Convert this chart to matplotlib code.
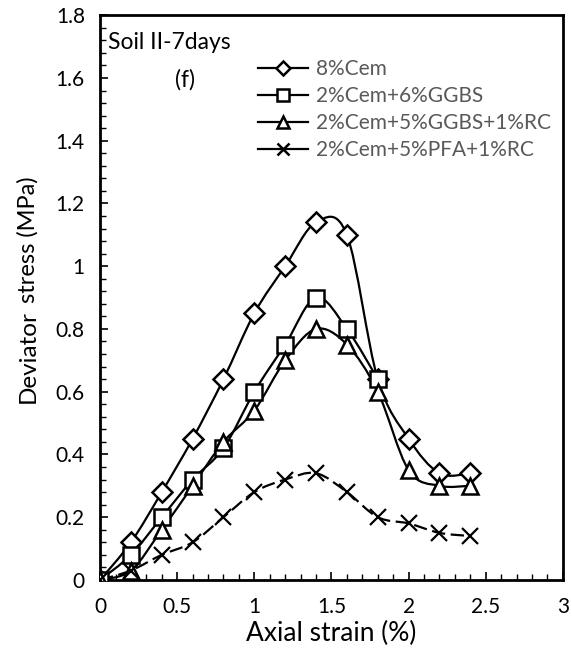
import matplotlib.pyplot as plt
import numpy as np
from matplotlib.path import Path
from matplotlib.patches import PathPatch
from matplotlib.lines import Line2D
from matplotlib.ticker import MultipleLocator

plt.rcParams['font.family'] = ['Lato', 'DejaVu Sans']

# Axial strain (%)
strain = [0, 0.2, 0.4, 0.6, 0.8, 1.0, 1.2, 1.4, 1.6, 1.8, 2.0, 2.2, 2.4]

# Deviator stress (MPa)
cem8 = [0, 0.12, 0.28, 0.45, 0.64, 0.85, 1.0, 1.14, 1.10, 0.64, 0.45, 0.34, 0.34]
ggbs6 = [0, 0.08, 0.20, 0.32, 0.42, 0.60, 0.75, 0.90, 0.80, 0.64]
ggbs5_rc = [0, 0.03, 0.16, 0.30, 0.44, 0.54, 0.70, 0.80, 0.75, 0.60, 0.35, 0.30, 0.30]
pfa5_rc = [0, 0.03, 0.08, 0.12, 0.20, 0.28, 0.32, 0.34, 0.28, 0.20, 0.18, 0.15, 0.14]

labels = ['8%Cem', '2%Cem+6%GGBS', '2%Cem+5%GGBS+1%RC', '2%Cem+5%PFA+1%RC']
xticks = [0, 0.5, 1, 1.5, 2, 2.5, 3]
xticklabels = ['0', '0.5', '1', '1.5', '2', '2.5', '3']
yticks = [0, 0.2, 0.4, 0.6, 0.8, 1.0, 1.2, 1.4, 1.6, 1.8]
yticklabels = ['0', '0.2', '0.4', '0.6', '0.8', '1', '1.2', '1.4', '1.6', '1.8']

markers = ['D', 's', '^', 'x']
msizes = [10.5, 12, 12, 11]
leg_msizes = [7, 8, 9, 8]
styles = ['-', '-', '-', (0, (6, 2.5))]


def smooth_path(x, y):
    # excel-style smoothed line drawn as cubic bezier segments
    pts = np.column_stack([x, y]).astype(float)
    n = len(pts)
    verts = [pts[0]]
    codes = [Path.MOVETO]
    for i in range(n - 1):
        p0 = pts[max(i - 1, 0)]
        p1 = pts[i]
        p2 = pts[i + 1]
        p3 = pts[min(i + 2, n - 1)]
        c1 = p1 + (p2 - p0) / 6.0
        c2 = p2 - (p3 - p1) / 6.0
        verts += [c1, c2, p2]
        codes += [Path.CURVE4] * 3
    return Path(verts, codes)


fig = plt.figure(figsize=(5.72, 6.62), dpi=100)
ax = fig.add_axes([0.175, 0.124, 0.809, 0.853])

series = [cem8, ggbs6, ggbs5_rc, pfa5_rc]
handles = []
for ys, lab, mk, ms, lms, ls in zip(series, labels, markers, msizes, leg_msizes, styles):
    xs = strain[:len(ys)]
    patch = PathPatch(smooth_path(xs, ys), facecolor='none', edgecolor='black',
                      linewidth=1.6, linestyle=ls, zorder=2)
    ax.add_patch(patch)
    ax.plot(xs, ys, linestyle='none', marker=mk, markersize=ms,
            markerfacecolor='white', markeredgecolor='black',
            markeredgewidth=1.8 if mk != 'x' else 1.6, zorder=3)
    handles.append(Line2D([], [], color='black', linewidth=1.6, marker=mk,
                          markersize=lms, markerfacecolor='white',
                          markeredgecolor='black', markeredgewidth=1.8))

ax.set_xlim(0, 3)
ax.set_ylim(0, 1.8)
ax.set_xticks(xticks)
ax.set_xticklabels(xticklabels)
ax.set_yticks(yticks)
ax.set_yticklabels(yticklabels)
ax.xaxis.set_minor_locator(MultipleLocator(0.1))
ax.yaxis.set_minor_locator(MultipleLocator(0.04))
ax.tick_params(which='major', direction='in', length=6, width=1.2, labelsize=15)
ax.tick_params(axis='x', which='major', pad=12)
ax.tick_params(axis='y', which='major', pad=11)
ax.tick_params(which='minor', direction='in', length=4, width=1.0)
for sp in ax.spines.values():
    sp.set_linewidth(2)

ax.set_xlabel('Axial strain (%)', fontsize=19, labelpad=3)
fig.text(0.061, 0.391, 'Deviator', rotation=90, rotation_mode='anchor',
         fontsize=17.5, ha='left', va='baseline')
fig.text(0.061, 0.542, 'stress (MPa)', rotation=90, rotation_mode='anchor',
         fontsize=17, ha='left', va='baseline')

ax.text(0.017, 0.952, 'Soil II-7days', transform=ax.transAxes, fontsize=16.5, va='center')
ax.text(0.162, 0.885, '(f)', transform=ax.transAxes, fontsize=16.5, va='center')

leg = ax.legend(handles, labels, loc='upper left', bbox_to_anchor=(0.341, 0.922),
                frameon=False, fontsize=15, handlelength=2.4, handletextpad=0.4,
                labelspacing=0.33, borderaxespad=0, borderpad=0)
for t in leg.get_texts():
    t.set_color('#595959')

fig.savefig('out.png', dpi=100)
